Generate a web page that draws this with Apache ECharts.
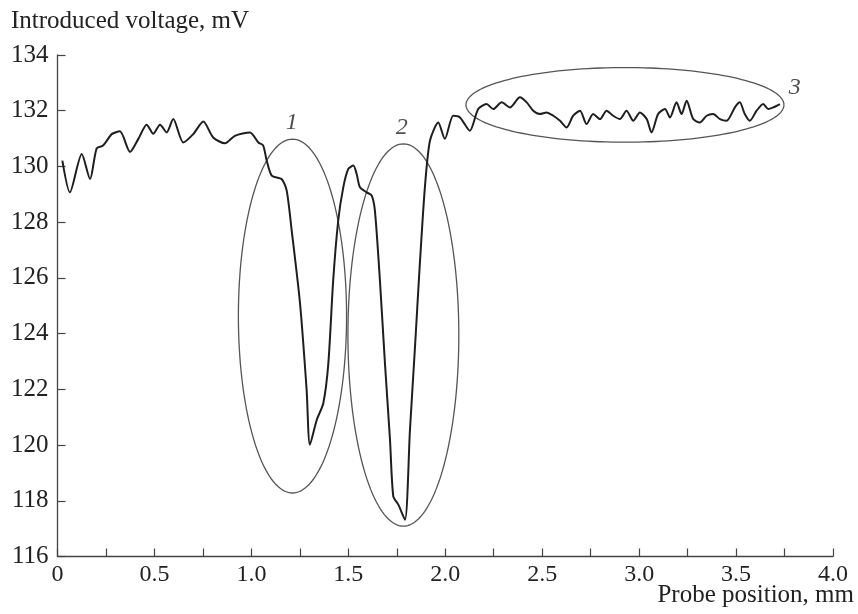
<!DOCTYPE html>
<html>
<head>
<meta charset="utf-8">
<script src="https://cdn.jsdelivr.net/npm/echarts@6/dist/echarts.min.js"></script>
<style>
html,body{margin:0;padding:0;background:#fff;}
#chart{width:858px;height:614px;}
</style>
</head>
<body>
<div id="chart"></div>
<script>
// Probe position (mm) and introduced voltage (mV)
var probeX = [0.025,0.064,0.125,0.168,0.202,0.235,0.280,0.322,0.374,0.417,0.460,0.494,0.529,0.563,0.597,0.649,0.700,0.752,0.803,0.864,0.915,0.993,1.036,1.061,1.079,1.105,1.156,1.182,1.208,1.251,1.285,1.302,1.337,1.371,1.397,1.422,1.448,1.474,1.500,1.526,1.543,1.560,1.595,1.620,1.637,1.663,1.689,1.715,1.732,1.758,1.792,1.818,1.844,1.869,1.895,1.921,1.964,1.998,2.041,2.076,2.127,2.170,2.213,2.248,2.291,2.334,2.385,2.420,2.454,2.488,2.523,2.557,2.592,2.626,2.660,2.695,2.729,2.763,2.798,2.832,2.866,2.901,2.935,2.970,3.004,3.039,3.064,3.098,3.133,3.159,3.193,3.219,3.245,3.279,3.313,3.348,3.382,3.417,3.451,3.494,3.519,3.545,3.571,3.606,3.640,3.666,3.692,3.726];
var voltage = [130.21,129.07,130.45,129.55,130.65,130.75,131.16,131.26,130.52,130.99,131.50,131.17,131.50,131.22,131.70,130.86,131.16,131.61,131.04,130.83,131.10,131.22,130.86,130.75,130.21,129.67,129.55,129.14,127.70,125.08,121.98,120.01,120.90,121.50,122.93,125.91,128.06,129.25,129.91,130.03,129.73,129.25,129.07,128.96,128.42,125.91,122.93,120.19,118.16,117.86,117.32,120.55,123.53,126.51,129.25,130.92,131.58,130.99,131.82,131.76,131.28,132.06,132.24,132.06,132.30,132.12,132.48,132.30,132.00,131.88,131.94,131.82,131.64,131.40,131.82,132.00,131.52,131.88,131.70,132.00,131.82,131.70,132.00,131.64,131.94,131.70,131.22,131.88,132.06,131.76,132.30,131.88,132.36,131.70,131.58,131.82,131.88,131.70,131.64,132.12,132.30,131.88,131.64,132.00,132.24,132.06,132.12,132.24];

// Annotation ellipses (centre and radii in data units)
var ellipseCx = [1.212, 1.784, 2.927];
var ellipseCy = [124.63, 123.95, 132.21];
var ellipseRx = [0.279, 0.286, 0.820];
var ellipseRy = [6.35, 6.86, 1.34];

// Region labels
var regionNames = ['1', '2', '3'];
var regionX = [1.208, 1.775, 3.803];
var regionY = [131.56, 131.40, 132.83];

var xTicks = { min: 0, max: 4, interval: 0.25 };
var yTicks = { min: 116, max: 134, interval: 2 };

var serif = '"Liberation Serif", "DejaVu Serif", serif';
var axisColor = '#444';

var curve = probeX.map(function (x, i) { return [x, voltage[i]]; });
var ellipses = ellipseCx.map(function (cx, i) { return [cx, ellipseCy[i], ellipseRx[i], ellipseRy[i]]; });
var labels = regionNames.map(function (n, i) { return { name: n, value: [regionX[i], regionY[i]] }; });

var chart = echarts.init(document.getElementById('chart'), null, { renderer: 'canvas' });
chart.setOption({
  animation: false,
  backgroundColor: '#fff',
  grid: { left: 57.5, right: 25, top: 55, bottom: 57.5 },
  xAxis: {
    type: 'value', min: xTicks.min, max: xTicks.max, interval: xTicks.interval,
    axisLine: { lineStyle: { color: axisColor, width: 1.3 } },
    axisTick: { inside: true, length: 8, lineStyle: { color: axisColor, width: 1.2 } },
    splitLine: { show: false },
    axisLabel: {
      margin: 6, color: '#222', fontFamily: serif, fontSize: 24,
      formatter: function (v) {
        var k = Math.round(v * 4);
        if (k % 2 !== 0) return '';
        return v === 0 ? '0' : v.toFixed(1);
      }
    }
  },
  yAxis: {
    type: 'value', min: yTicks.min, max: yTicks.max, interval: yTicks.interval,
    axisLine: { show: true, lineStyle: { color: axisColor, width: 1.3 } },
    axisTick: { show: true, inside: true, length: 8, lineStyle: { color: axisColor, width: 1.2 } },
    splitLine: { show: false },
    axisLabel: { margin: 9, color: '#222', fontFamily: serif, fontSize: 25 }
  },
  graphic: [
    { type: 'text', left: 11, top: 9, style: { text: 'Introduced voltage, mV', font: '25px ' + serif, fill: '#222' } },
    { type: 'text', right: 4, top: 583, style: { text: 'Probe position, mm', font: '25px ' + serif, fill: '#222' } }
  ],
  series: [
    {
      type: 'custom',
      data: ellipses,
      silent: true,
      z: 1,
      renderItem: function (params, api) {
        var cx = api.value(0), cy = api.value(1), rx = api.value(2), ry = api.value(3);
        var pts = [];
        var n = 160;
        for (var k = 0; k <= n; k++) {
          var t = 2 * Math.PI * k / n;
          pts.push(api.coord([cx + rx * Math.cos(t), cy + ry * Math.sin(t)]));
        }
        return { type: 'polyline', shape: { points: pts }, style: { stroke: '#555', lineWidth: 1.3, fill: null } };
      }
    },
    {
      type: 'line',
      data: curve,
      smooth: 0.25,
      showSymbol: false,
      z: 2,
      lineStyle: { color: '#1e1e1e', width: 2 }
    },
    {
      type: 'scatter',
      data: labels,
      symbolSize: 0,
      z: 3,
      label: {
        show: true, position: 'inside', formatter: '{b}',
        fontFamily: serif, fontStyle: 'italic', fontSize: 24, color: '#222'
      }
    }
  ]
});
</script>
</body>
</html>
